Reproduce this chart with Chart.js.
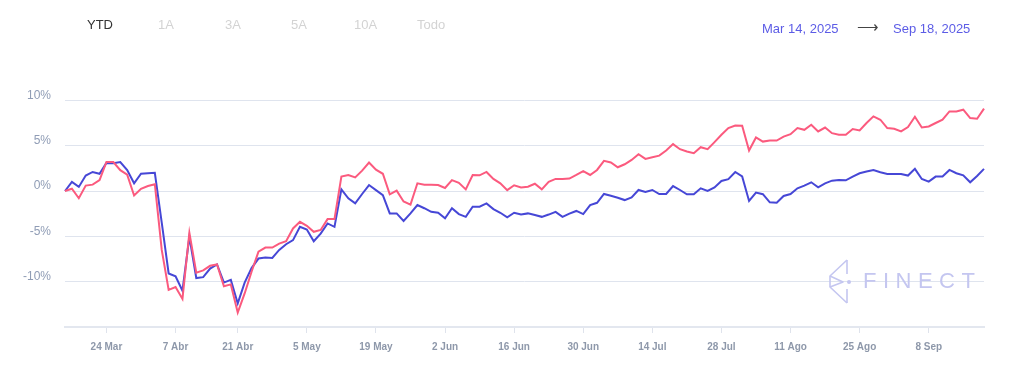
<!DOCTYPE html>
<html>
<head>
<meta charset="utf-8">
<script src="https://cdn.jsdelivr.net/npm/chart.js@4.4.1/dist/chart.umd.min.js"></script>
<style>
  body { margin: 0; background: #fff; font-family: "Liberation Sans", Arial, sans-serif; }
  #wrap { position: relative; width: 1024px; height: 370px; }
  #wrap canvas { position: absolute; left: 0; top: 0; }
  .tab { position: absolute; top: 17px; font-size: 13px; line-height: 15px; color: #d3d3d3; }
  .tab.on { color: #333; }
  .range { position: absolute; top: 21px; font-size: 13px; line-height: 15px; color: #5c5ce6; }
  .arrow { position: absolute; top: 19px; left: 857px; font-size: 15px; line-height: 15px; color: #444; }
  #mark { position: absolute; left: 826px; top: 257px; }
  #mark span { position: absolute; left: 37px; top: 13px; font-size: 22px; line-height: 22px; letter-spacing: 6.5px; color: #c4c6f0; }
</style>
</head>
<body>
<div id="wrap">
  <canvas id="perfChart" width="1024" height="370"></canvas>
  <div class="tab on" style="left:87px">YTD</div>
  <div class="tab" style="left:158px">1A</div>
  <div class="tab" style="left:225px">3A</div>
  <div class="tab" style="left:291px">5A</div>
  <div class="tab" style="left:354px">10A</div>
  <div class="tab" style="left:417px">Todo</div>
  <div class="range" style="left:762px">Mar 14, 2025</div>
  <div class="arrow">&#10230;</div>
  <div class="range" style="left:893px">Sep 18, 2025</div>
  <div id="mark">
    <svg width="30" height="50" viewBox="0 0 30 50">
      <g fill="none" stroke="#c4c6f0" stroke-width="1.6" stroke-linejoin="round">
        <polyline points="21,3 4,19 4,30 21,46"/>
        <polyline points="21,3 21,17"/>
        <polyline points="21,32 21,46"/>
        <polyline points="4,19 17,25 4,30"/>
      </g>
      <circle cx="23" cy="25" r="2" fill="#c4c6f0"/>
    </svg>
    <span>FINECT</span>
  </div>
</div>
<script>
// trading days shown (weekends and Good Friday are not in the series)
const startDate = new Date(2025, 2, 14);
const endDate = new Date(2025, 8, 18);
const closedDays = ["2025-04-18"];
const monthsEs = ["Ene", "Feb", "Mar", "Abr", "May", "Jun", "Jul", "Ago", "Sep", "Oct", "Nov", "Dic"];

// x axis ticks
const tickDates = ["2025-03-24", "2025-04-07", "2025-04-21", "2025-05-05", "2025-05-19", "2025-06-02",
  "2025-06-16", "2025-06-30", "2025-07-14", "2025-07-28", "2025-08-11", "2025-08-25", "2025-09-08"];
const yTicks = [-10, -5, 0, 5, 10];

// fund (blue) and benchmark (red), % return since Mar 14
const blueSeries = [
  0, 1.0, 0.45, 1.7, 2.1, 1.9, 3.1, 3.05, 3.2, 2.3,
  0.85, 1.9, 1.95, 2.0, -3.5, -9.1, -9.4, -11.0, -5.05, -9.6,
  -9.5, -8.55, -8.1, -10.1, -9.8, -12.4, -10.1, -8.5, -7.45, -7.34,
  -7.38, -6.5, -5.87, -5.42, -3.95, -4.24, -5.54, -4.7, -3.58, -3.95,
  0.18, -0.8, -1.37, -0.33, 0.66, 0.1, -0.45, -2.47, -2.47, -3.3,
  -2.47, -1.55, -1.9, -2.3, -2.4, -3.0, -1.9, -2.55, -2.85, -1.73,
  -1.73, -1.37, -2.0, -2.4, -2.9, -2.4, -2.6, -2.47, -2.65, -2.85,
  -2.6, -2.3, -2.85, -2.5, -2.2, -2.55, -1.55, -1.3, -0.33, -0.52,
  -0.74, -1.0, -0.7, 0.11, -0.11, 0.11, -0.33, -0.33, 0.55, 0.11,
  -0.37, -0.37, 0.3, 0, 0.4, 1.1, 1.3, 2.1, 1.6, -1.1,
  -0.18, -0.35, -1.25, -1.3, -0.55, -0.33, 0.3, 0.59, 0.96, 0.41,
  0.85, 1.14, 1.22, 1.18, 1.59, 1.96, 2.14, 2.32, 2.07, 1.88,
  1.88, 1.88, 1.7, 2.44, 1.33, 1.03, 1.59, 1.59, 2.32, 1.96,
  1.73, 0.96, 1.66, 2.44
];
const redSeries = [
  0, 0.25, -0.8, 0.6, 0.7, 1.2, 3.2, 3.2, 2.3, 1.8,
  -0.5, 0.25, 0.55, 0.75, -6.5, -10.9, -10.6, -11.9, -4.6, -9.0,
  -8.75, -8.25, -8.1, -10.5, -10.3, -13.4, -11.3, -8.9, -6.7, -6.24,
  -6.24, -5.8, -5.54, -4.13, -3.4, -3.84, -4.5, -4.3, -3.1, -3.1,
  1.59, 1.77, 1.5, 2.25, 3.14, 2.35, 1.9, -0.37, 0.04, -1.15,
  -1.5, 0.85, 0.7, 0.7, 0.66, 0.33, 1.2, 0.9, 0.18, 1.77,
  1.73, 2.1, 1.33, 0.85, 0.1, 0.63, 0.4, 0.48, 0.8, 0.18,
  1.0, 1.33, 1.33, 1.37, 1.77, 2.2, 1.77, 2.32, 3.32, 3.14,
  2.62, 2.95, 3.43, 4.06, 3.54, 3.73, 3.9, 4.46, 5.17, 4.61,
  4.35, 4.17, 4.83, 4.61, 5.39, 6.2, 6.94, 7.23, 7.2, 4.46,
  5.9, 5.45, 5.57, 5.57, 6.0, 6.27, 6.94, 6.75, 7.3, 6.57,
  7.0, 6.38, 6.2, 6.2, 6.83, 6.68, 7.5, 8.23, 7.86, 6.94,
  6.86, 6.57, 7.05, 8.19, 7.0, 7.12, 7.5, 7.86, 8.78, 8.78,
  8.97, 8.04, 7.97, 9.08
];

const fmt = d => d.getFullYear() + "-" + String(d.getMonth() + 1).padStart(2, "0") + "-" + String(d.getDate()).padStart(2, "0");

const labels = [];
for (let d = new Date(startDate); d <= endDate; d.setDate(d.getDate() + 1)) {
  const wd = d.getDay();
  if (wd === 0 || wd === 6 || closedDays.includes(fmt(d))) continue;
  labels.push(fmt(d));
}
const tickIdx = tickDates.map(t => labels.indexOf(t));

function shortLabel(iso) {
  const p = iso.split("-");
  return parseInt(p[2], 10) + " " + monthsEs[parseInt(p[1], 10) - 1];
}

const ctx = document.getElementById("perfChart");
new Chart(ctx, {
  type: "line",
  data: {
    labels: labels,
    datasets: [
      { data: redSeries, borderColor: "#fb5a7e", borderWidth: 2, pointRadius: 0, tension: 0 },
      { data: blueSeries, borderColor: "#4647d6", borderWidth: 2, pointRadius: 0, tension: 0 }
    ]
  },
  options: {
    responsive: false,
    animation: false,
    layout: { padding: { top: 55, right: 40, left: 0, bottom: 0 } },
    plugins: { legend: { display: false }, tooltip: { enabled: false } },
    scales: {
      x: {
        grid: { drawOnChartArea: false, drawTicks: true, tickLength: 6, color: "#dfe3ec" },
        border: { display: true, color: "#e3e7ef", width: 2 },
        ticks: {
          autoSkip: false, maxRotation: 0, padding: 8, color: "#8e98aa",
          font: { size: 10, weight: "bold", family: "'Liberation Sans', Arial, sans-serif" },
          callback: v => shortLabel(labels[v])
        },
        afterBuildTicks: s => { s.ticks = tickIdx.map(v => ({ value: v })); },
        afterFit: s => { s.height = 43; }
      },
      y: {
        min: -15, max: 15,
        grid: { color: "#dfe4ee", drawTicks: false },
        border: { display: false },
        ticks: {
          padding: 14, labelOffset: -5, color: "#8f9cb5",
          font: { size: 12, family: "'Liberation Sans', Arial, sans-serif" },
          callback: v => v + "%"
        },
        afterBuildTicks: s => { s.ticks = yTicks.map(v => ({ value: v })); },
        afterFit: s => { s.width = 65; }
      }
    }
  }
});
</script>
</body>
</html>
